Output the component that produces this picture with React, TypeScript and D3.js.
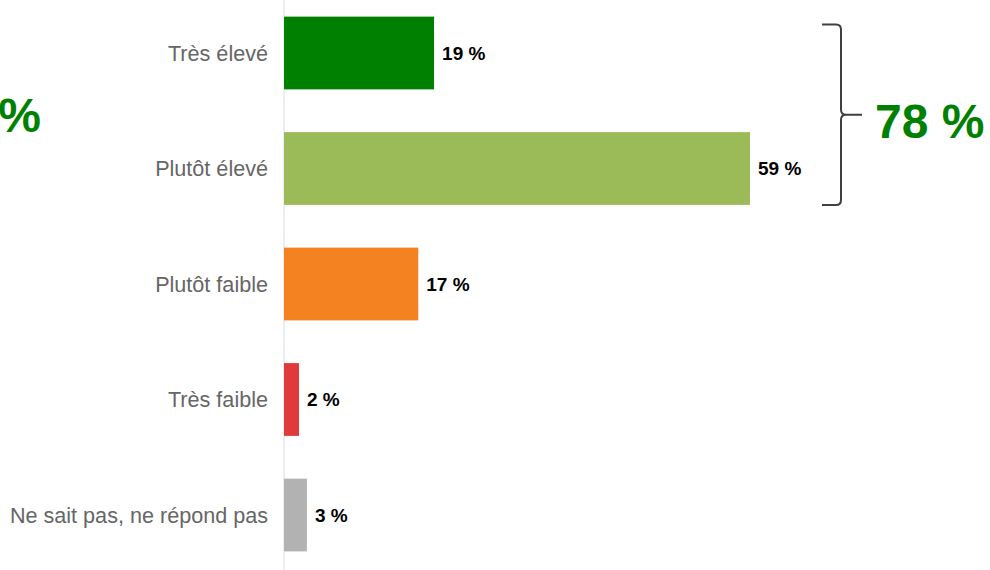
import React from "react";
import * as d3 from "d3";

// données
const categories = ["Très élevé", "Plutôt élevé", "Plutôt faible", "Très faible", "Ne sait pas, ne répond pas"];
const values = [19, 59, 17, 1.9, 2.9];
const colors = ["#008000", "#9BBB59", "#F58220", "#E03A3A", "#B2B2B2"];
const totalEleve = "78 %";
const totalFaible = "19 %";

const W = 990;
const H = 570;
const FONT = "Liberation Sans, Arial, sans-serif";

export default function App() {
    const x = d3.scaleLinear().domain([0, 59]).range([284, 750]);
    const y = d3.scaleBand<string>()
        .domain(categories)
        .range([-4.75, 572.75])
        .paddingInner(0.37)
        .paddingOuter(0.185);
    const bw = y.bandwidth();
    const fmt = (v: number) => `${Math.round(v)} %`;

    // accolade autour des deux premières barres
    const bTop = (y(categories[0]) as number) + 8;
    const bBot = (y(categories[1]) as number) + bw;
    const bMid = (bTop + bBot) / 2;
    const bx = 841;
    const brace = `M822,${bTop} L836,${bTop} Q${bx},${bTop} ${bx},${bTop + 5} L${bx},${bMid - 5} Q${bx},${bMid} ${bx + 5},${bMid} L862,${bMid} M${bx + 5},${bMid} Q${bx},${bMid} ${bx},${bMid + 5} L${bx},${bBot - 5} Q${bx},${bBot} 836,${bBot} L822,${bBot}`;

    return (
        <svg width={W} height={H} style={{position: "absolute", left: 0, top: 0}} fontFamily={FONT}>
            <rect width={W} height={H} fill="#ffffff"/>
            <line x1={x(0)} x2={x(0)} y1={0} y2={H} stroke="#D9DCE8" strokeWidth={1}/>
            {categories.map((c, i) => (
                <g key={c}>
                    <rect x={x(0)} y={y(c)} width={x(values[i]) - x(0)} height={bw} fill={colors[i]}/>
                    <text x={268} y={(y(c) as number) + bw / 2} dy="0.35em" textAnchor="end"
                          fontSize={21.6} fill="#666666">{c}</text>
                    <text x={x(values[i]) + 8} y={(y(c) as number) + bw / 2} dy="0.35em"
                          fontSize={19} fontWeight="bold" fill="#000000">{fmt(values[i])}</text>
                </g>
            ))}
            <path d={brace} fill="none" stroke="#404040" strokeWidth={2}/>
            <text x={875} y={bMid + 6} dy="0.35em" fontSize={48} fontWeight="bold" fill="#008000">{totalEleve}</text>
            <text x={41} y={bMid} dy="0.35em" textAnchor="end" fontSize={48} fontWeight="bold" fill="#008000">{totalFaible}</text>
        </svg>
    );
}
